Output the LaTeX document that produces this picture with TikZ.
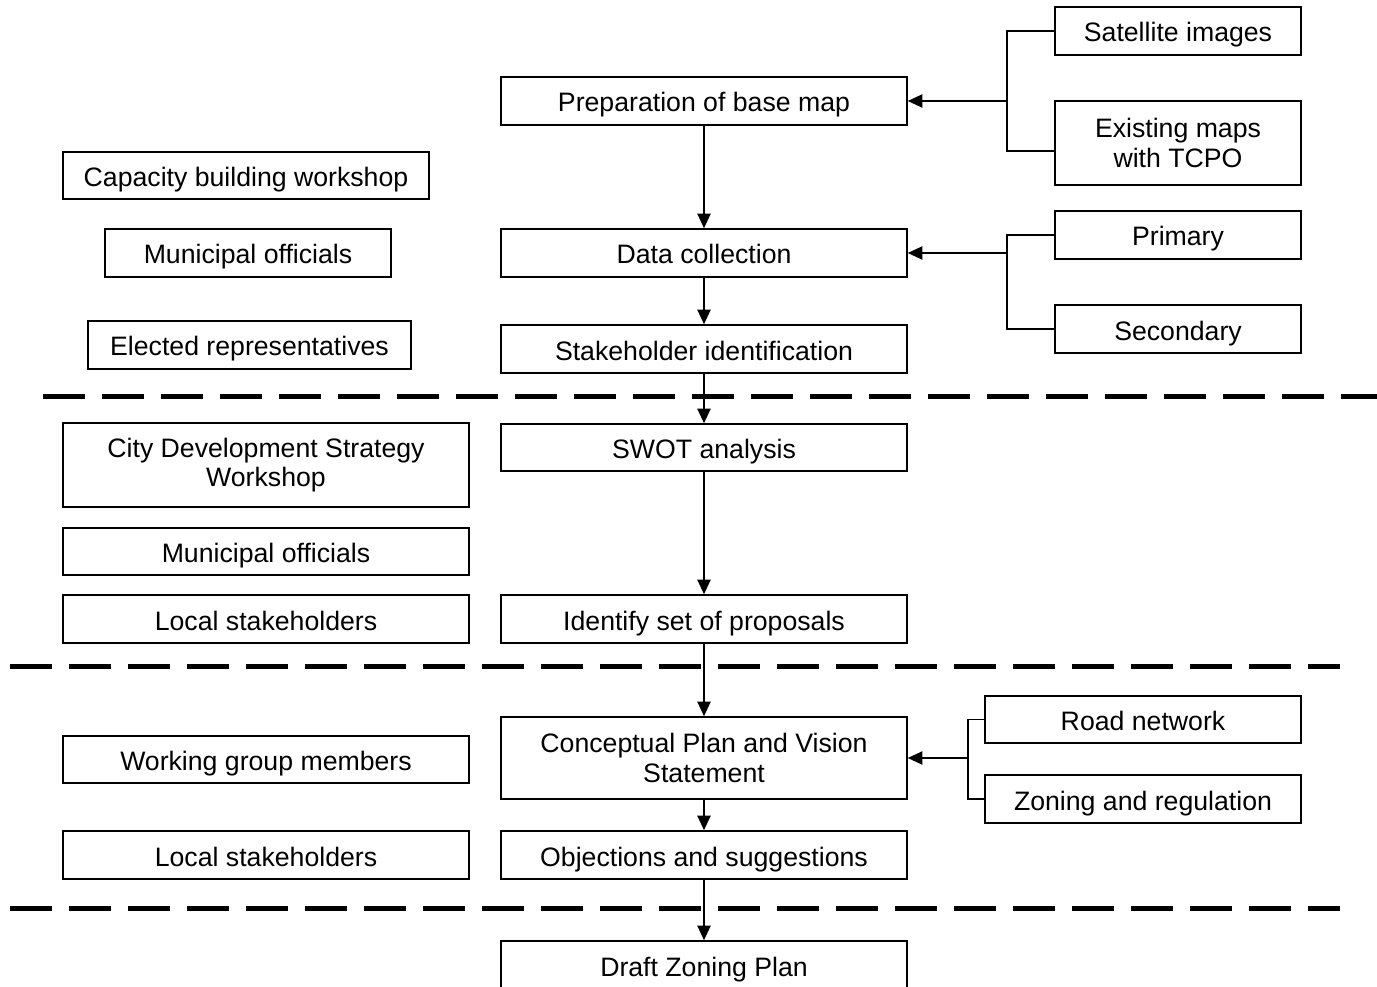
\documentclass[tikz,border=0pt]{standalone}
\usepackage{fontspec}
\setmainfont{Liberation Sans}
\usetikzlibrary{arrows.meta}
\tikzstyle{block} = [rectangle,fill=white,draw=black,line width=1.2pt,inner sep=0pt,
align=center, font=\fontsize{20}{22}\selectfont]
\tikzstyle{single} = [text height=16.5pt, text depth=0pt]
\tikzstyle{stage} = [block, single, minimum width=304.5pt, minimum height=36pt]
\tikzstyle{source} = [block, single, minimum width=184.5pt, minimum height=36pt]
\tikzstyle{actor} = [block, single, minimum width=304.5pt, minimum height=36pt]
\tikzstyle{phase} = [line width=3.75pt, dash pattern=on 31.5pt off 12.75pt]
\tikzset{>={Triangle[length=11pt,width=10pt]}}
\newcommand{\flowedge}[3][]{ %
  % Arrow from all nodes #2 to all nodes #3.
  \foreach \x in {#2} { %
    \foreach \y in {#3} { %
      \draw [->,line width=1.1pt,#1] (\x) -- (\y) ;%
    } ;
  } ;
}

\begin{document}
\begin{tikzpicture}[x=0.75pt, y=-0.75pt]
  \useasboundingbox (0,0) rectangle (1377,987);

  % phase separators
  \draw[phase] (43,396) -- (1377,396);
  \draw[phase] (10,666) -- (1340,666);
  \draw[phase] (10,908) -- (1340,908);

  % main steps
  \node[stage] (prep) at (704,101) {Preparation of base map};
  \node[stage] (data) at (704,253) {Data collection};
  \node[stage] (stake) at (704,349) {Stakeholder identification};
  \node[stage, minimum height=35.25pt] (swot) at (704,447.5) {SWOT analysis};
  \node[stage] (ident) at (704,619) {Identify set of proposals};
  \node[block, minimum width=304.5pt, minimum height=61.5pt] (concept) at (704,758) {Conceptual Plan and Vision\\Statement};
  \node[stage] (object) at (704,855) {Objections and suggestions};
  \node[stage] (draft) at (704,965) {Draft Zoning Plan};
  \flowedge {prep} {data};
  \flowedge {data} {stake};
  \flowedge {stake} {swot};
  \flowedge {swot} {ident};
  \flowedge {ident} {concept};
  \flowedge {concept} {object};
  \flowedge {object} {draft};

  % inputs
  \node[source] (sat) at (1178,31) {Satellite images};
  \node[block, minimum width=184.5pt, minimum height=63pt] (exist) at (1178,143) {Existing maps\\with TCPO};
  \node[source] (prim) at (1178,235) {Primary};
  \node[source] (second) at (1178,329) {Secondary};
  \node[source, minimum width=237pt, minimum height=35.25pt] (road) at (1143,719.5) {Road network};
  \node[source, minimum width=237pt] (zoning) at (1143,799) {Zoning and regulation};

  \coordinate (j1) at (1007,101);
  \coordinate (j2) at (1007,253);
  \coordinate (j3) at (968,758);
  \draw[line width=1.1pt] (sat.west) -| (j1) |- ([yshift=-6pt]exist.west);
  \draw[line width=1.1pt] (prim.west) -| (j2) |- (second.west);
  \draw[line width=1.1pt] (road.west) -| (j3) |- (zoning.west);
  \flowedge {j1} {prep.east};
  \flowedge {j2} {data.east};
  \flowedge {j3} {concept.east};

  % participants
  \node[actor, minimum width=274.5pt, minimum height=35.25pt] (cap) at (246,175.5) {Capacity building workshop};
  \node[actor, minimum width=214.5pt] (muni) at (248,253) {Municipal officials};
  \node[actor, minimum width=242.25pt] (elect) at (249.5,345) {Elected representatives};
  \node[block, minimum width=304.5pt, minimum height=63pt] (cds) at (266,465) {City Development Strategy\\Workshop};
  \node[actor, minimum height=35.25pt] (muniB) at (266,551.5) {Municipal officials};
  \node[actor] (local) at (266,619) {Local stakeholders};
  \node[actor, minimum height=35.25pt] (work) at (266,759.5) {Working group members};
  \node[actor] (localB) at (266,855) {Local stakeholders};
\end{tikzpicture}
\end{document}
